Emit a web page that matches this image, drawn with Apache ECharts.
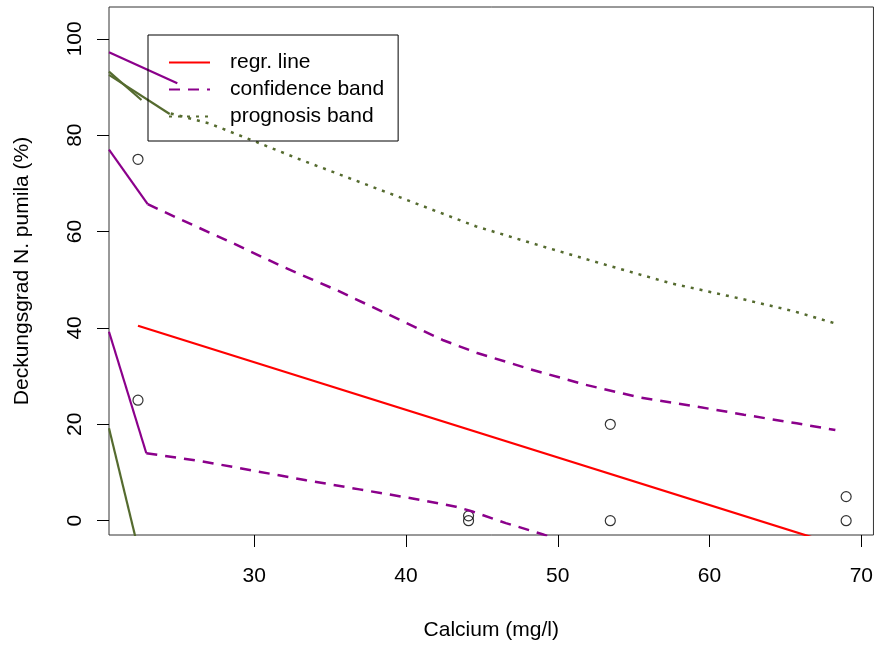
<!DOCTYPE html>
<html>
<head>
<meta charset="utf-8">
<script src="https://cdn.jsdelivr.net/npm/echarts@6/dist/echarts.min.js"></script>
<style>
html,body{margin:0;padding:0;background:#fff;}
#chart{width:876px;height:646px;}
</style>
</head>
<body>
<div id="chart"></div>
<script>
// ---- data ----
var pointsX = [22.34, 22.34, 44.12, 44.12, 53.46, 53.46, 69.0, 69.0];
var pointsY = [75, 25, 1, 0, 20, 0, 5, 0];

var regrX = [22.34, 69.0];
var regrY = [40.45, -5.65];

var confUpperX = [22.98, 24.87, 28.38, 31.88, 35.39, 38.9, 42.41, 44.69, 48.22, 51.84, 55.35, 58.75, 62.26, 65.74, 68.29];
var confUpperY = [65.7, 62.9, 57.9, 52.7, 47.9, 42.7, 37.5, 34.8, 31.4, 28.2, 25.6, 23.9, 22.0, 20.2, 18.8];

var confLowerX = [22.89, 26.40, 29.91, 33.42, 36.93, 40.43, 43.29, 44.38, 46.58, 48.99, 55.35, 62.26, 68.29];
var confLowerY = [14.0, 12.4, 10.4, 8.4, 6.5, 4.6, 2.9, 1.9, -0.5, -2.8, -9.9, -20.0, -28.7];

var progUpperX = [24.5, 27.06, 30.13, 32.98, 39.27, 44.59, 48.70, 52.82, 57.41, 62.01, 65.63, 68.53];
var progUpperY = [84.5, 82.4, 78.6, 75.0, 67.5, 61.1, 57.2, 53.4, 49.3, 46.1, 43.4, 40.7];

// solid lead-in segments at the left edge
var leadConfTopX = [20.43, 24.93];   var leadConfTopY = [97.2, 90.8];
var leadConfUpX = [20.43, 22.98];    var leadConfUpY = [77.0, 65.7];
var leadConfLowX = [20.43, 22.89];   var leadConfLowY = [39.2, 14.0];
var leadProgAX = [20.43, 22.57];     var leadProgAY = [93.2, 87.3];
var leadProgBX = [20.43, 24.43];     var leadProgBY = [92.5, 84.4];
var leadProgLowX = [20.43, 22.5];    var leadProgLowY = [19.2, -7.7];

var xTicks = [30, 40, 50, 60, 70];
var yTicks = [0, 20, 40, 60, 80, 100];
var legendNames = ['regr. line', 'confidence band', 'prognosis band'];

function zip(xs, ys) { return xs.map(function (x, i) { return [x, ys[i]]; }); }

var PURPLE = '#8B008B', OLIVE = '#556B2F', RED = '#FF0000';
var FONT = 'Liberation Sans, Arial, sans-serif';

function lineSeries(name, xs, ys, color, type, width) {
  return {
    type: 'line', name: name, data: zip(xs, ys), symbol: 'none', showSymbol: false, clip: true,
    animation: false, silent: true,
    lineStyle: { color: color, width: width, type: type, cap: 'butt' },
    itemStyle: { color: color }
  };
}

var chart = echarts.init(document.getElementById('chart'), null, { renderer: 'canvas' });
chart.setOption({
  backgroundColor: '#ffffff',
  animation: false,
  grid: { left: 109, top: 7, right: 1, bottom: 111, show: true, borderColor: '#333', borderWidth: 1, backgroundColor: 'transparent' },
  xAxis: {
    type: 'value', min: 20.43, max: 70.8,
    name: 'Calcium (mg/l)', nameLocation: 'middle', nameGap: 85,
    nameTextStyle: { fontFamily: FONT, fontSize: 21, color: '#000' },
    axisLine: { show: false, onZero: false },
    splitLine: { show: false },
    axisTick: { show: true, inside: false, length: 12, customValues: xTicks, lineStyle: { color: '#000' } },
    axisLabel: { customValues: xTicks, margin: 31, fontFamily: FONT, fontSize: 21, color: '#000' }
  },
  yAxis: {
    type: 'value', min: -2.97, max: 106.6,
    name: 'Deckungsgrad N. pumila (%)', nameLocation: 'middle', nameGap: 76, nameRotate: 90,
    nameTextStyle: { fontFamily: FONT, fontSize: 21, color: '#000' },
    axisLine: { show: false, onZero: false },
    splitLine: { show: false },
    axisTick: { show: true, inside: false, length: 12, customValues: yTicks, lineStyle: { color: '#000' } },
    axisLabel: { customValues: yTicks, rotate: 90, margin: 23, fontFamily: FONT, fontSize: 21, color: '#000' }
  },
  legend: {
    data: legendNames,
    orient: 'vertical', left: 148, top: 35,
    padding: [17, 14, 14, 20],
    itemWidth: 41, itemHeight: 21, itemGap: 6,
    itemStyle: { opacity: 0 },
    borderColor: '#000', borderWidth: 1, borderRadius: 0,
    backgroundColor: 'transparent',
    selectedMode: false,
    textStyle: { fontFamily: FONT, fontSize: 21, color: '#000', padding: [0, 0, 0, 15] }
  },
  series: [
    lineSeries('lead1', leadConfTopX, leadConfTopY, PURPLE, 'solid', 2.2),
    lineSeries('lead2', leadConfUpX, leadConfUpY, PURPLE, 'solid', 2.2),
    lineSeries('lead3', leadConfLowX, leadConfLowY, PURPLE, 'solid', 2.2),
    lineSeries('lead4', leadProgAX, leadProgAY, OLIVE, 'solid', 2.2),
    lineSeries('lead5', leadProgBX, leadProgBY, OLIVE, 'solid', 2.2),
    lineSeries('lead6', leadProgLowX, leadProgLowY, OLIVE, 'solid', 2.2),
    lineSeries('regr. line', regrX, regrY, RED, 'solid', 2.2),
    lineSeries('confidence band', confUpperX, confUpperY, PURPLE, [11, 8], 2.5),
    lineSeries('confidence band', confLowerX, confLowerY, PURPLE, [11, 8], 2.5),
    lineSeries('prognosis band', progUpperX, progUpperY, OLIVE, [3, 6], 2.5),
    {
      type: 'scatter', name: 'points', data: zip(pointsX, pointsY),
      symbol: 'circle', symbolSize: 10, animation: false, silent: true,
      itemStyle: { color: 'rgba(0,0,0,0)', borderColor: '#000', borderWidth: 1.2 }
    }
  ]
});
</script>
</body>
</html>
